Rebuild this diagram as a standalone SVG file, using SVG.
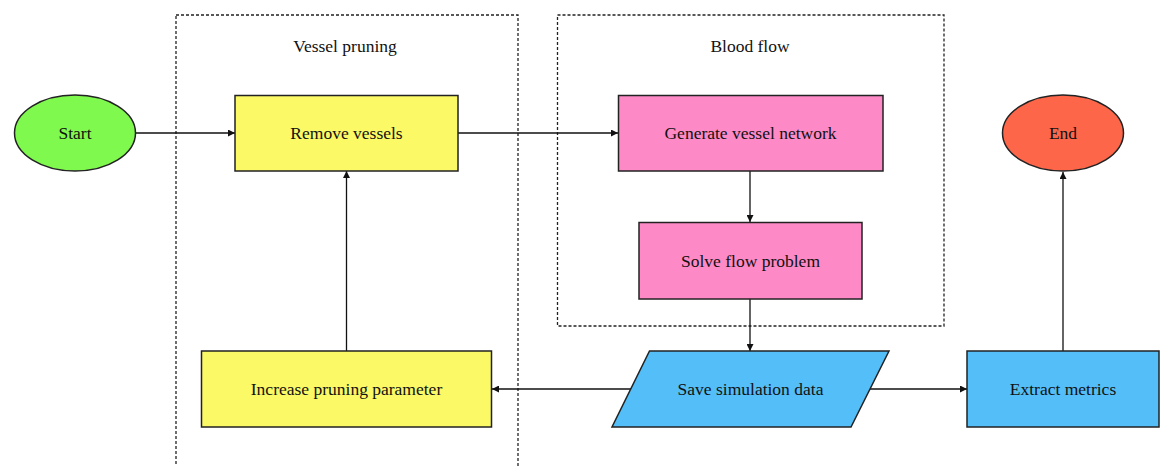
<svg xmlns="http://www.w3.org/2000/svg" width="1165" height="466" viewBox="0 0 1165 466">
  <style>
    text { font-family: "Liberation Serif", "Times New Roman", serif; font-size: 17.5px; fill: #111; text-anchor: middle; dominant-baseline: central; }
    .group { fill: none; stroke: #222; stroke-width: 1.3; stroke-dasharray: 3 2; }
    .shape { stroke: #222; stroke-width: 1.5; }
    .edge { fill: none; stroke: #111; stroke-width: 1.3; marker-end: url(#arrow); }
  </style>
  <defs>
    <marker id="arrow" viewBox="0 0 10 10" refX="10" refY="5" markerWidth="7" markerHeight="7" markerUnits="userSpaceOnUse" orient="auto">
      <path d="M0,0 L10,5 L0,10 z" fill="#111"/>
    </marker>
  </defs>
  <rect width="1165" height="466" fill="#ffffff"/>

  <!-- Clusters -->
  <g id="cluster-pruning">
    <rect class="group" x="176" y="15" width="342" height="470"/>
    <text x="345" y="46">Vessel pruning</text>
  </g>
  <g id="cluster-bloodflow">
    <rect class="group" x="557.5" y="15" width="386.5" height="311"/>
    <text x="750" y="46">Blood flow</text>
  </g>

  <!-- Connectors -->
  <g id="connectors">
    <line class="edge" x1="136" y1="133" x2="235" y2="133"/>
    <line class="edge" x1="458" y1="133" x2="618" y2="133"/>
    <line class="edge" x1="750" y1="171" x2="750" y2="222"/>
    <line class="edge" x1="750" y1="299" x2="750" y2="351"/>
    <line class="edge" x1="631" y1="389" x2="492" y2="389"/>
    <line class="edge" x1="346.5" y1="351" x2="346.5" y2="171"/>
    <line class="edge" x1="870" y1="389" x2="967" y2="389"/>
    <line class="edge" x1="1063" y1="351" x2="1063" y2="172"/>
  </g>

  <!-- Nodes -->
  <g id="start">
    <ellipse class="shape" cx="75" cy="133" rx="60.5" ry="38" fill="#80f94e"/>
    <text x="75" y="133">Start</text>
  </g>
  <g id="remove-vessels">
    <rect class="shape" x="235" y="95.5" width="223" height="75.5" fill="#fbf966"/>
    <text x="346.5" y="133">Remove vessels</text>
  </g>
  <g id="generate-network">
    <rect class="shape" x="618.5" y="95.5" width="264.5" height="75.5" fill="#fd8ac6"/>
    <text x="750.5" y="133">Generate vessel network</text>
  </g>
  <g id="solve-flow">
    <rect class="shape" x="639" y="222.5" width="223" height="76.5" fill="#fd8ac6"/>
    <text x="750.5" y="261">Solve flow problem</text>
  </g>
  <g id="save-data">
    <polygon class="shape" points="649.5,351 889,351 851,427 612,427" fill="#54bef8"/>
    <text x="750.5" y="389">Save simulation data</text>
  </g>
  <g id="increase-parameter">
    <rect class="shape" x="201.5" y="351" width="290" height="76" fill="#fbf966"/>
    <text x="346.5" y="389">Increase pruning parameter</text>
  </g>
  <g id="extract-metrics">
    <rect class="shape" x="967" y="351" width="192" height="76" fill="#54bef8"/>
    <text x="1063" y="389">Extract metrics</text>
  </g>
  <g id="end">
    <ellipse class="shape" cx="1063" cy="133" rx="60.5" ry="38" fill="#fe664a"/>
    <text x="1063" y="133">End</text>
  </g>
</svg>
